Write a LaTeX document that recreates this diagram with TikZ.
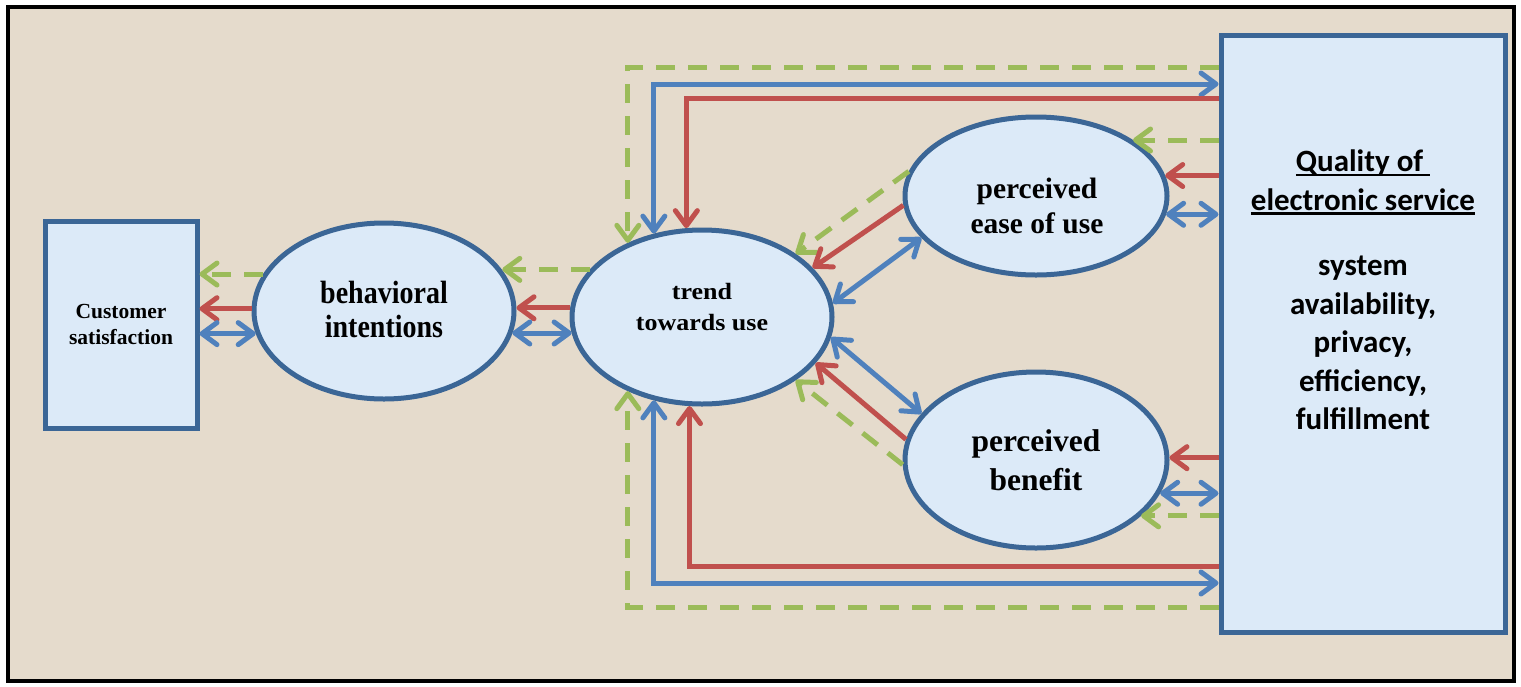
\documentclass[tikz,border=0pt]{standalone}
\usepackage{fontspec}
\usepackage{graphicx}
\setmainfont{Liberation Serif}
\newfontfamily\calib{Carlito}
\usetikzlibrary{shapes.geometric,arrows.meta}
\definecolor{bgc}{HTML}{E5DBCC}
\definecolor{lblue}{HTML}{DCEAF8}
\definecolor{bord}{HTML}{3B6696}
\definecolor{cblue}{HTML}{4F81BD}
\definecolor{cred}{HTML}{C0504D}
\definecolor{cgreen}{HTML}{9BBB59}
\newcommand{\qul}[1]{\setbox0\hbox{#1}\rlap{\rule[-4.5pt]{\wd0}{2.6pt}}\box0}
\newcommand{\vstretch}[2]{\scalebox{1}[#1]{\begin{tabular}{@{}c@{}}#2\end{tabular}}}
\begin{document}
\begin{tikzpicture}[x=1pt,y=-1pt,
  box/.style={draw=bord, fill=lblue, line width=5pt, rectangle, inner sep=0pt, align=center},
  ell/.style={draw=bord, fill=lblue, line width=5pt, ellipse, inner sep=0pt, align=center},
  txt/.style={align=center, inner sep=0pt},
  barb/.tip={Straight Barb[length=15pt,width=22pt,round]},
  conn/.style={line width=5pt},
  rl/.style={conn, draw=cred, -barb},
  bl/.style={conn, draw=cblue, barb-barb},
  gl/.style={conn, draw=cgreen, dash pattern=on 19pt off 13pt, -barb}
]
\useasboundingbox (0,0) rectangle (1521,686);
\fill[white] (0,0) rectangle (1521,686);
\draw[line width=4pt, fill=bgc] (8,7) rectangle (1514,681);

% nodes
\node[box, minimum width=152pt, minimum height=207pt, font=\bfseries\fontsize{21.5}{26}\selectfont] (cs) at (121,324.5) {Customer\\satisfaction};
\node[ell, minimum width=260pt, minimum height=176pt] (bi) at (384,311) {};
\node[txt, font=\bfseries\fontsize{28}{29.6}\selectfont] (bit) at (384,314) {\vstretch{1.15}{behavioral\\intentions}};
\node[ell, minimum width=260pt, minimum height=174pt] (tr) at (702,317) {};
\node[txt, font=\bfseries\fontsize{26}{34.4}\selectfont] (trt) at (702,309) {\vstretch{0.9}{trend\\towards use}};
\node[ell, minimum width=262pt, minimum height=158pt] (ea) at (1036,196) {};
\node[txt, font=\bfseries\fontsize{29.5}{35}\selectfont] (eat) at (1037,206) {perceived\\ease of use};
\node[ell, minimum width=262pt, minimum height=176pt, font=\bfseries\fontsize{31.5}{39}\selectfont] (be) at (1036,460) {perceived\\benefit};
\node[box, minimum width=284pt, minimum height=597pt] (q) at (1363,333.5) {};
\node[txt, font=\calib\bfseries\fontsize{31}{38.5}\selectfont] (qt) at (1363,290)
  {\qul{Quality of\ }\\\qul{electronic service}\\[27pt]system\\availability,\\privacy,\\efficiency,\\fulfillment};

% customer <-> behavioral
\draw[gl] (bi.163) -- (bi.163 -| cs.east);
\draw[rl] (bi.179) -- (bi.179 -| cs.east);
\draw[bl] (cs.east |- bi.190) -- (bi.190);

% behavioral <-> trend
\draw[gl] (tr.157) -- (tr.157 -| bi.19);
\draw[rl] (tr.176) -- (tr.176 -| bi.east);
\draw[bl] (tr.187 -| bi.350) -- (tr.187);

% top loops
\draw[gl] (q.west |- 0,67) -| (tr.135);
\draw[bl] (tr.120) |- (q.west |- 0,84);
\draw[rl] (q.west |- 0,98) -| (tr.100);

% bottom loops
\draw[gl] (q.west |- 0,607) -| (tr.225);
\draw[bl] (tr.240) |- (q.west |- 0,583);
\draw[rl] (q.west |- 0,566) -| (tr.262);

% quality -> ease
\draw[gl] (q.west |- ea.30) -- (ea.30);
\draw[rl] (q.west |- ea.9) -- (ea.9);
\draw[bl] (ea.352) -- (q.west |- ea.352);

% quality -> benefit
\draw[rl] (q.west |- be.1) -- (be.1);
\draw[bl] (be.345) -- (q.west |- be.345);
\draw[gl] (q.west |- be.332) -- (be.332);

% ease -> trend
\draw[gl] (ea.169) -- (tr.34);
\draw[rl] (ea.184) -- (tr.24);
\draw[bl] (ea.200) -- (tr.6);

% benefit -> trend
\draw[bl] (tr.351) -- (be.158);
\draw[rl] (be.171) -- (tr.338);
\draw[gl] (be.182) -- (tr.326);
\end{tikzpicture}
\end{document}
